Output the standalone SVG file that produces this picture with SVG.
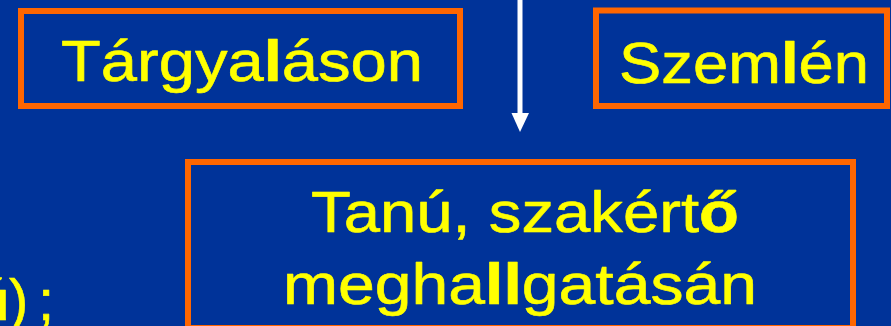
<svg xmlns="http://www.w3.org/2000/svg" width="891" height="326" viewBox="0 0 891 326">
  <style>
    .box { fill: none; stroke: #FF6600; stroke-width: 6; }
    .lbl { font-family: "Liberation Sans", Arial, sans-serif; font-size: 58px; fill: #FFFF00; stroke: #FFFF00; stroke-width: 0.6; stroke-linejoin: round; }
    .b { font-weight: bold; }
    .conn { stroke: #FFFFFF; stroke-width: 5; fill: none; }
    .head { fill: #FFFFFF; }
  </style>
  <rect x="0" y="0" width="891" height="326" fill="#003399"/>
  <g id="left-text">
    <text class="lbl" y="320"><tspan class="b" x="-26">ú</tspan><tspan x="9">)</tspan><tspan x="38">;</tspan></text>
  </g>
  <g id="node-targyalason">
    <rect class="box" x="21" y="11" width="439" height="95"/>
    <text class="lbl" x="61" y="81" textLength="362" lengthAdjust="spacingAndGlyphs">Tárgya<tspan class="b">l</tspan>áson</text>
  </g>
  <g id="node-szemlen">
    <rect class="box" x="596" y="10.5" width="291" height="95.5"/>
    <text class="lbl" x="619" y="82.5" textLength="250" lengthAdjust="spacingAndGlyphs">Szem<tspan class="b">l</tspan>én</text>
  </g>
  <g id="node-tanu">
    <rect class="box" x="188" y="162" width="665" height="166"/>
    <text class="lbl" x="311" y="232" textLength="428" lengthAdjust="spacingAndGlyphs">Tanú, szakért<tspan class="b">ő</tspan></text>
    <text class="lbl" x="283" y="304" textLength="474" lengthAdjust="spacingAndGlyphs">megha<tspan class="b">ll</tspan>gatásán</text>
  </g>
  <g id="connectors">
    <line class="conn" x1="520" y1="0" x2="520" y2="115"/>
    <polygon class="head" points="511.5,113 529,113 520,132"/>
  </g>
</svg>
